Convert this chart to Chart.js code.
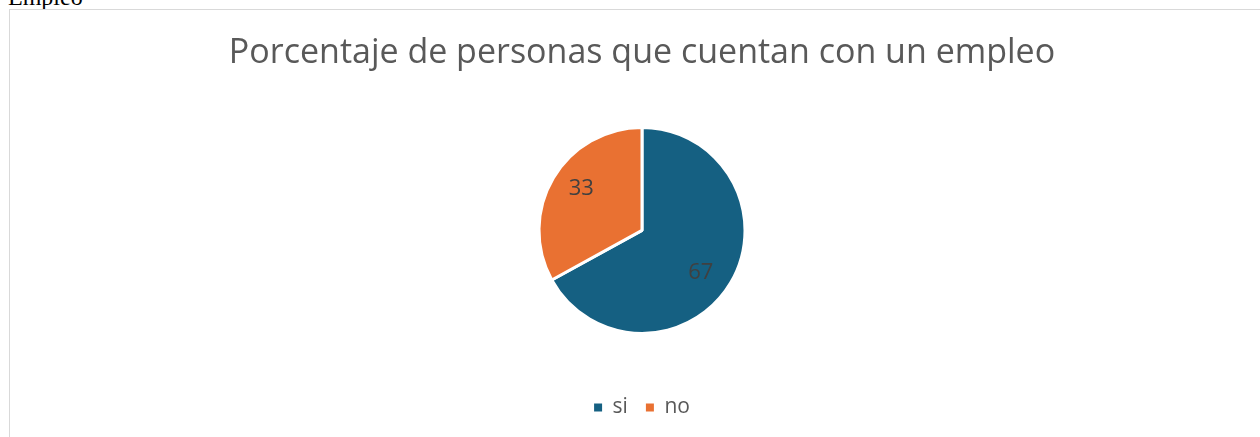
<!DOCTYPE html>
<html lang="es">
<head>
    <meta charset="UTF-8">
    <title>Porcentaje de personas que cuentan con un empleo</title>
    <script src="https://cdn.jsdelivr.net/npm/chart.js@4.4.1/dist/chart.umd.min.js"></script>
    <style>
        * {
            box-sizing: border-box;
            margin: 0;
            padding: 0;
        }

        body {
            background: white;
            width: 1260px;
            height: 437px;
            overflow: hidden;
            position: relative;
        }

        .caption {
            position: absolute;
            left: 8px;
            top: -16px;
            font-family: 'Liberation Serif', 'DejaVu Serif', serif;
            font-size: 24px;
            color: #000;
        }

        .chart-box {
            position: absolute;
            left: 9px;
            top: 9px;
            width: 1266px;
            height: 445px;
            border: 1px solid #d9d9d9;
        }

        .chart-box canvas {
            display: block;
        }
    </style>
</head>
<body>
    <div class="caption">Empleo</div>
    <div class="chart-box">
        <canvas id="empleo-chart" width="1264" height="443"></canvas>
    </div>

    <script>
        // Chart data
        const categories = ['si', 'no'];
        const values = [67, 33];
        const colors = ['#156082', '#e97132'];
        const chartTitle = 'Porcentaje de personas que cuentan con un empleo';

        const textColor = '#595959';
        const fontFamily = "'Open Sans', 'Liberation Sans', Arial, sans-serif";

        // Draw value labels inside each slice (slightly rotated like Excel's best fit)
        const sliceLabels = {
            id: 'sliceLabels',
            afterDatasetsDraw(chart) {
                const ctx = chart.ctx;
                const meta = chart.getDatasetMeta(0);
                ctx.save();
                ctx.fillStyle = '#404040';
                ctx.font = '22px ' + fontFamily;
                ctx.textAlign = 'center';
                ctx.textBaseline = 'middle';
                meta.data.forEach((arc, i) => {
                    const mid = (arc.startAngle + arc.endAngle) / 2 + 0.08;
                    const r = arc.outerRadius * 0.71;
                    ctx.fillText(values[i], arc.x + Math.cos(mid) * r - 1, arc.y + Math.sin(mid) * r);
                });
                ctx.restore();
            }
        };

        const defaultLabels = Chart.controllers.pie.overrides.plugins.legend.labels.generateLabels;

        new Chart(document.getElementById('empleo-chart'), {
            type: 'pie',
            data: {
                labels: categories,
                datasets: [{
                    data: values,
                    backgroundColor: colors,
                    borderColor: '#ffffff',
                    borderWidth: 3,
                    radius: 103
                }]
            },
            options: {
                responsive: false,
                animation: false,
                layout: {
                    padding: { top: 0, bottom: 25 }
                },
                plugins: {
                    title: {
                        display: true,
                        text: chartTitle,
                        color: textColor,
                        font: { family: fontFamily, size: 34, weight: 'normal' },
                        padding: { top: 23, bottom: 8 }
                    },
                    legend: {
                        position: 'bottom',
                        labels: {
                            color: textColor,
                            font: { family: fontFamily, size: 21 },
                            boxWidth: 8,
                            boxHeight: 8,
                            padding: 18,
                            generateLabels(chart) {
                                return defaultLabels(chart).map(item => {
                                    item.lineWidth = 0;
                                    return item;
                                });
                            }
                        }
                    },
                    tooltip: { enabled: false }
                }
            },
            plugins: [sliceLabels]
        });
    </script>
</body>
</html>
